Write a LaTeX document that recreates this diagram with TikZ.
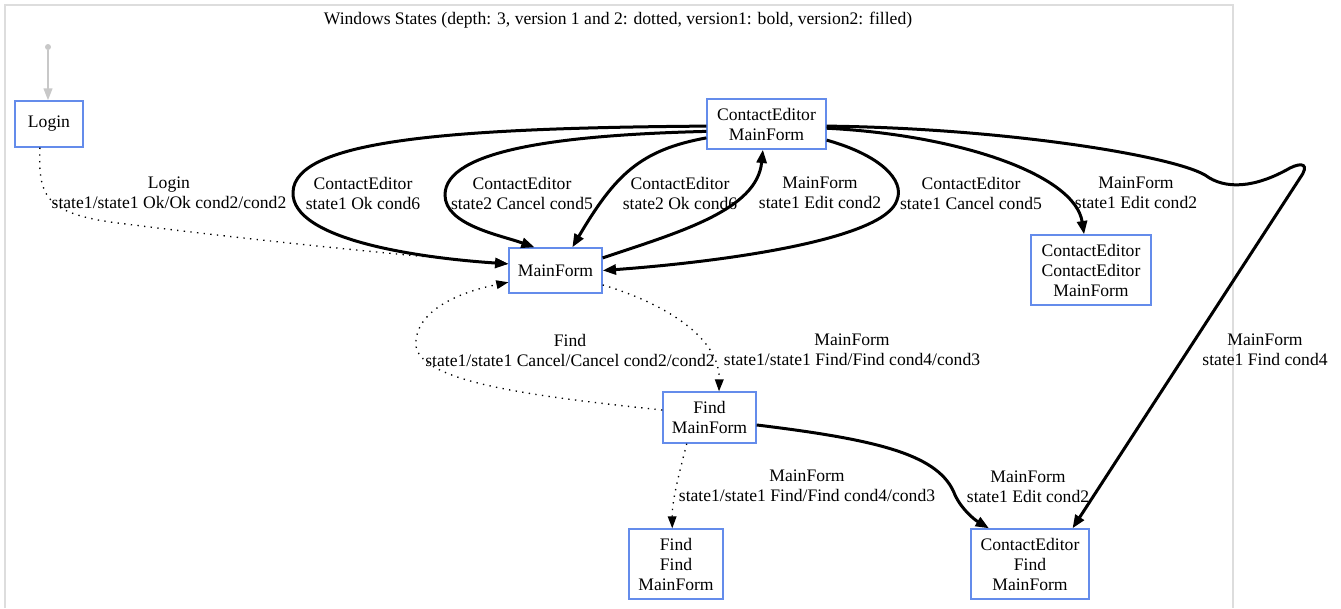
\documentclass[tikz,border=0pt]{standalone}
\usepackage{fontspec}
\setmainfont{Liberation Serif}
\usetikzlibrary{arrows.meta}
\definecolor{nodeblue}{RGB}{100,140,235}
\definecolor{framegray}{RGB}{221,221,221}
\definecolor{startgray}{RGB}{200,200,200}
\tikzstyle{state} = [rectangle, draw=nodeblue, line width=1pt, align=center, inner sep=0pt, font=\rmfamily\fontsize{13.2}{15}\selectfont]
\tikzstyle{lbl} = [align=center, inner sep=0pt, font=\rmfamily\fontsize{13.2}{15}\selectfont]
\tikzstyle{boldedge} = [line width=2.25pt, -{Triangle[length=10pt,width=7.5pt]}]
\tikzstyle{dotedge} = [line width=1pt, dash pattern=on 1pt off 4pt, -{Triangle[length=9pt,width=6.5pt]}]

\begin{document}
\begin{tikzpicture}[x=0.75pt,y=-0.75pt]
\useasboundingbox (0,0) rectangle (1341,608);
\draw[framegray, line width=1pt] (5,608) -- (5,5) -- (1233,5) -- (1233,608);
\node[lbl] (title) at (618,20) {Windows States (depth: 3, version 1 and 2: dotted, version1: bold, version2: filled)};

% states
\node[circle, fill=startgray, inner sep=0pt, minimum size=4.5pt] (start) at (48,47) {};
\node[state, minimum width=51pt, minimum height=34.5pt] (login) at (49,124) {Login};
\node[state, minimum width=89.25pt, minimum height=37.5pt] (cemf) at (766.5,124) {ContactEditor\\MainForm};
\node[state, minimum width=69.75pt, minimum height=33.75pt] (mf) at (555.5,270.5) {MainForm};
\node[state, minimum width=90pt, minimum height=52.5pt] (cecemf) at (1091,270) {ContactEditor\\ContactEditor\\MainForm};
\node[state, minimum width=69.75pt, minimum height=38.25pt] (fmf) at (709.5,417.5) {Find\\MainForm};
\node[state, minimum width=70.5pt, minimum height=52.5pt] (ffmf) at (676,564) {Find\\Find\\MainForm};
\node[state, minimum width=88.5pt, minimum height=52.5pt] (cefmf) at (1030,564) {ContactEditor\\Find\\MainForm};

% transitions
\draw[startgray, line width=1.5pt, -{Triangle[length=9pt,width=6.5pt]}] (start) -- (start |- login.north);
\draw[dotedge] (login.249) .. controls (38,195) and (45,212) .. (110,222) .. controls (250,240) and (400,255) .. (mf.172);
\draw[boldedge] (cemf.182) .. controls (450,128) and (295,140) .. (293,192) .. controls (291,240) and (420,258) .. (mf.172);
\draw[boldedge] (cemf.187) .. controls (560,135) and (445,150) .. (445,195) .. controls (445,225) and (500,235) .. (mf.132);
\draw[boldedge] (cemf.193) .. controls (640,150) and (615,175) .. (mf.54);
\draw[boldedge] (mf.15) .. controls (680,232) and (757,210) .. (cemf.262);
\draw[boldedge] (cemf.345) .. controls (880,155) and (905,180) .. (897,200) .. controls (885,240) and (720,262) .. (mf.east);
\draw[boldedge] (cemf.356) .. controls (960,135) and (1075,175) .. (cecemf.101);
\draw[boldedge] (cemf.358) .. controls (1000,128) and (1170,155) .. (1205,175) .. controls (1225,190) and (1255,188) .. (1290,168) .. controls (1302,162) and (1310,164) .. (1300,178) -- (cefmf.40);
\draw[dotedge] (mf.343) .. controls (670,305) and (720,340) .. (fmf.70);
\draw[dotedge] (fmf.171) .. controls (520,395) and (410,380) .. (416,340) .. controls (420,305) and (470,290) .. (mf.194);
\draw[dotedge] (fmf.229) .. controls (680,470) and (672,500) .. (ffmf.96);
\draw[boldedge] (fmf.351) .. controls (880,440) and (940,455) .. (955,495) .. controls (962,510) and (975,520) .. (cefmf.139);

% labels
\node[lbl] (l1) at (169,193) {Login\\state1/state1 Ok/Ok cond2/cond2};
\node[lbl] (l2) at (363,193) {ContactEditor\\state1 Ok cond6};
\node[lbl] (l3) at (522,193) {ContactEditor\\state2 Cancel cond5};
\node[lbl] (l4) at (680,193) {ContactEditor\\state2 Ok cond6};
\node[lbl] (l5) at (820,193) {MainForm\\state1 Edit cond2};
\node[lbl] (l6) at (971,193) {ContactEditor\\state1 Cancel cond5};
\node[lbl] (l7) at (1136,193) {MainForm\\state1 Edit cond2};
\node[lbl] (l8) at (1265,350) {MainForm\\state1 Find cond4};
\node[lbl] (l9) at (852,350) {MainForm\\state1/state1 Find/Find cond4/cond3};
\node[lbl] (l10) at (570,350) {Find\\state1/state1 Cancel/Cancel cond2/cond2};
\node[lbl] (l11) at (807,486) {MainForm\\state1/state1 Find/Find cond4/cond3};
\node[lbl] (l12) at (1028,487) {MainForm\\state1 Edit cond2};
\end{tikzpicture}
\end{document}
